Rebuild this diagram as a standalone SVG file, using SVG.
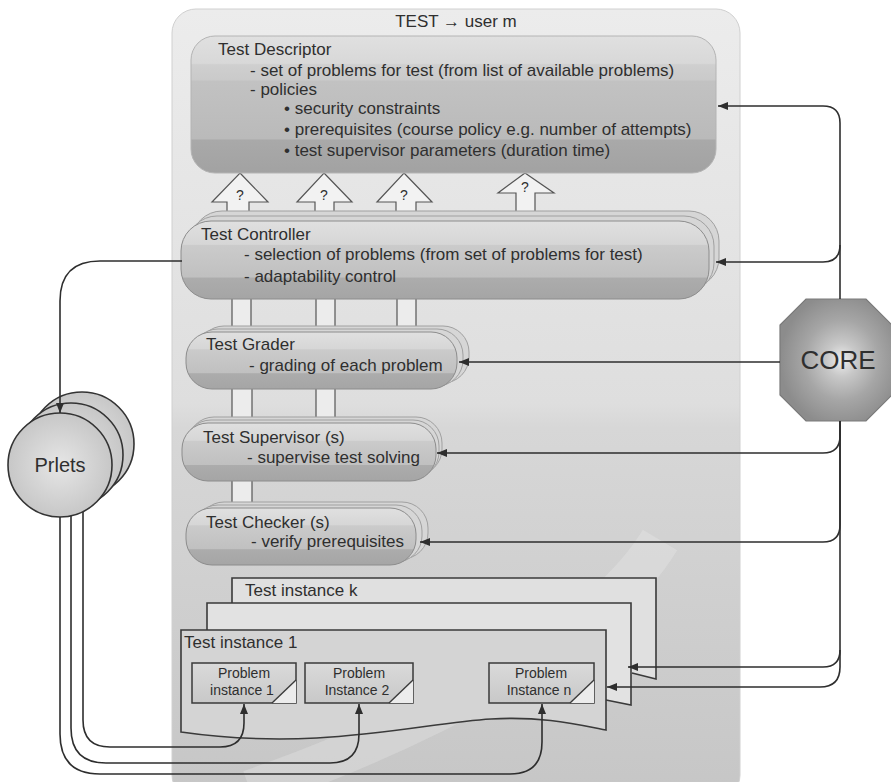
<svg xmlns="http://www.w3.org/2000/svg" width="891" height="782" viewBox="0 0 891 782">
<style>
text{font-family:"Liberation Sans",Arial,sans-serif;fill:#2f2f2f}
.t17{font-size:17px}
.t14{font-size:14px}
.pill{fill:url(#pillG);stroke:#8c8c8c;stroke-width:1}
.pillb{fill:#d6d6d6;stroke:#a0a0a0;stroke-width:1}
.conn{fill:none;stroke:#2e2e2e;stroke-width:1.6}
.blk{fill:#f2f2f2;stroke:#555;stroke-width:1.2}
.pipe{fill:#ececec}
.pline{stroke:#555;stroke-width:1.2}
.inst{stroke:#3a3a3a;stroke-width:1.6}
.prob{fill:url(#probG);stroke:#3a3a3a;stroke-width:1.5}
.circ{fill:url(#circG);stroke:#333;stroke-width:1.6}
</style>
<defs>
<linearGradient id="panelG" x1="0" y1="0" x2="0" y2="1">
<stop offset="0" stop-color="#ececec"/>
<stop offset="0.5" stop-color="#dedede"/>
<stop offset="0.53" stop-color="#d7d7d7"/>
<stop offset="1" stop-color="#c6c6c6"/>
</linearGradient>
<linearGradient id="descG" x1="0" y1="0" x2="0" y2="1">
<stop offset="0" stop-color="#e0e0e0"/>
<stop offset="0.2" stop-color="#d8d8d8"/>
<stop offset="0.21" stop-color="#cfcfcf"/>
<stop offset="0.32" stop-color="#cacaca"/>
<stop offset="0.33" stop-color="#c2c2c2"/>
<stop offset="0.75" stop-color="#bababa"/>
<stop offset="0.76" stop-color="#a9a9a9"/>
<stop offset="1" stop-color="#a2a2a2"/>
</linearGradient>
<linearGradient id="pillG" x1="0" y1="0" x2="0" y2="1">
<stop offset="0" stop-color="#e0e0e0"/>
<stop offset="0.3" stop-color="#d6d6d6"/>
<stop offset="0.31" stop-color="#cbcbcb"/>
<stop offset="0.72" stop-color="#c0c0c0"/>
<stop offset="0.73" stop-color="#acacac"/>
<stop offset="1" stop-color="#a5a5a5"/>
</linearGradient>
<linearGradient id="probG" x1="0" y1="0" x2="0" y2="1">
<stop offset="0" stop-color="#dadada"/>
<stop offset="1" stop-color="#c8c8c8"/>
</linearGradient>
<radialGradient id="circG" cx="0.5" cy="0.5" r="0.55">
<stop offset="0" stop-color="#e6e6e6"/>
<stop offset="1" stop-color="#c4c4c4"/>
</radialGradient>
<radialGradient id="coreG" cx="0.55" cy="0.5" r="0.55">
<stop offset="0" stop-color="#eeeeee"/>
<stop offset="0.25" stop-color="#c8c8c8"/>
<stop offset="0.6" stop-color="#a6a6a6"/>
<stop offset="1" stop-color="#8c8c8c"/>
</radialGradient>
<marker id="ah" viewBox="0 0 10 8" refX="10" refY="4" markerWidth="10" markerHeight="8" markerUnits="userSpaceOnUse" orient="auto">
<path d="M0,0 L10,4 L0,8 Z" fill="#2e2e2e"/>
</marker>
</defs>

<rect width="891" height="782" fill="#ffffff"/>

<g id="panel">
<rect x="172" y="9" width="568" height="790" rx="24" fill="url(#panelG)" stroke="#d0d0d0" stroke-width="1"/>
<path d="M250,790 C420,730 600,640 660,540" fill="none" stroke="#f2f2f2" stroke-width="40" opacity="0.25"/>
<text class="t17" x="456" y="27" text-anchor="middle">TEST → user m</text>
</g>

<g id="connectors">
<path class="blk" d="M240,173 L268,202 L249,202 L249,216 L227,216 L227,202 L212,202 Z"/>
<path class="blk" d="M324,173 L352,202 L334,202 L334,216 L315,216 L315,202 L297,202 Z"/>
<path class="blk" d="M404,173 L432,202 L416,202 L416,216 L396,216 L396,202 L377,202 Z"/>
<path class="blk" d="M525,173 L554,193 L535,193 L535,216 L516,216 L516,193 L498,193 Z"/>
<text class="t14" x="240" y="200" text-anchor="middle">?</text>
<text class="t14" x="324" y="200" text-anchor="middle">?</text>
<text class="t14" x="404" y="200" text-anchor="middle">?</text>
<text class="t14" x="525" y="192" text-anchor="middle">?</text>
<rect class="pipe" x="232" y="296" width="19" height="40"/>
<rect class="pipe" x="316" y="296" width="19" height="40"/>
<rect class="pipe" x="397" y="296" width="19" height="40"/>
<path class="pline" d="M232,296 V336 M251,296 V336 M316,296 V336 M335,296 V336 M397,296 V336 M416,296 V336"/>
<rect class="pipe" x="232" y="386" width="20" height="36"/>
<rect class="pipe" x="316" y="386" width="19" height="36"/>
<path class="pline" d="M232,386 V422 M252,386 V422 M316,386 V422 M335,386 V422"/>
<rect class="pipe" x="232" y="478" width="20" height="30"/>
<path class="pline" d="M232,478 V508 M252,478 V508"/>
</g>

<g id="test-descriptor">
<rect x="191" y="36" width="525" height="137" rx="24" fill="url(#descG)" stroke="#b4b4b4" stroke-width="1"/>
<text class="t17" x="218" y="55">Test Descriptor</text>
<text class="t17" x="250" y="76">- set of problems for test (from list of available problems)</text>
<text class="t17" x="250" y="95">- policies</text>
<text class="t17" x="284" y="114">• security constraints</text>
<text class="t17" x="284" y="135">• prerequisites (course policy e.g. number of attempts)</text>
<text class="t17" x="284" y="156">• test supervisor parameters (duration time)</text>
</g>

<g id="test-controller">
<rect class="pillb" x="192" y="211" width="527" height="77" rx="30"/>
<rect class="pillb" x="187" y="216" width="527" height="77" rx="30"/>
<rect class="pill" x="181" y="221" width="528" height="78" rx="30"/>
<text class="t17" x="201" y="240">Test Controller</text>
<text class="t17" x="244" y="260">- selection of problems (from set of problems for test)</text>
<text class="t17" x="244" y="282">- adaptability control</text>
</g>

<g id="test-grader">
<rect class="pillb" x="198" y="326" width="271" height="57" rx="26"/>
<rect class="pillb" x="192" y="329" width="271" height="57" rx="26"/>
<rect class="pill" x="186" y="332" width="271" height="57" rx="26"/>
<text class="t17" x="206" y="350">Test Grader</text>
<text class="t17" x="249" y="371">- grading of each problem</text>
</g>

<g id="test-supervisor">
<rect class="pillb" x="188" y="417" width="254" height="58" rx="26"/>
<rect class="pillb" x="185" y="420" width="254" height="58" rx="26"/>
<rect class="pill" x="182" y="423" width="254" height="58" rx="26"/>
<text class="t17" x="203" y="443">Test Supervisor (s)</text>
<text class="t17" x="247" y="463">- supervise test solving</text>
</g>

<g id="test-checker">
<rect class="pillb" x="198" y="502" width="230" height="57" rx="26"/>
<rect class="pillb" x="192" y="505" width="230" height="57" rx="26"/>
<rect class="pill" x="186" y="508" width="230" height="57" rx="26"/>
<text class="t17" x="206" y="528">Test Checker (s)</text>
<text class="t17" x="251" y="547">- verify prerequisites</text>
</g>

<g id="test-instance-k">
<path class="inst" d="M232,640 V578 H656 V679 L632,673" fill="#e0e0e0"/>
<text class="t17" x="245" y="596">Test instance k</text>
</g>

<g id="test-instance-2">
<path class="inst" d="M207,660 V603 H631 V705 L606,700" fill="#e2e2e2"/>
</g>

<g id="test-instance-1">
<path class="inst" d="M181,732 V630 H606 V730 C575,724 540,716 491,719 C420,723 320,752 181,732 Z" fill="#d4d4d4"/>
<text class="t17" x="184" y="648">Test instance 1</text>
</g>

<g id="problem-instance-1">
<rect class="prob" x="192" y="663" width="104" height="40"/>
<path d="M296,680 V703 H272 Z" fill="#ececec"/>
<path d="M296,680 L272,703" stroke="#3a3a3a" stroke-width="1.4"/>
<text class="t14" x="244" y="678" text-anchor="middle">Problem</text>
<text class="t14" x="242" y="695" text-anchor="middle">instance 1</text>
</g>

<g id="problem-instance-2">
<rect class="prob" x="305" y="663" width="108" height="40"/>
<path d="M413,680 V703 H389 Z" fill="#ececec"/>
<path d="M413,680 L389,703" stroke="#3a3a3a" stroke-width="1.4"/>
<text class="t14" x="359" y="678" text-anchor="middle">Problem</text>
<text class="t14" x="357" y="695" text-anchor="middle">Instance 2</text>
</g>

<g id="problem-instance-n">
<rect class="prob" x="489" y="663" width="105" height="40"/>
<path d="M594,680 V703 H570 Z" fill="#ececec"/>
<path d="M594,680 L570,703" stroke="#3a3a3a" stroke-width="1.4"/>
<text class="t14" x="541" y="678" text-anchor="middle">Problem</text>
<text class="t14" x="539" y="695" text-anchor="middle">Instance n</text>
</g>

<g id="prlets">
<circle class="circ" cx="82" cy="444" r="52"/>
<circle class="circ" cx="71" cy="455" r="52"/>
<circle class="circ" cx="60" cy="465" r="52"/>
<text x="60" y="472" text-anchor="middle" style="font-size:20px">Prlets</text>
</g>

<g id="core">
<polygon points="806,299 866,299 892,325 892,395 866,421 806,421 780,395 780,325" fill="url(#coreG)" stroke="#7a7a7a" stroke-width="1.2"/>
<text x="838" y="369" text-anchor="middle" style="font-size:26px">CORE</text>
</g>

<g id="connector-lines">
<path class="conn" marker-end="url(#ah)" d="M182,261 H100 Q60,261 60,301 V413"/>
<path class="conn" marker-end="url(#ah)" d="M840,299 V123 Q840,106 823,106 H718"/>
<path class="conn" marker-end="url(#ah)" d="M840,245 Q840,262 823,262 H716"/>
<path class="conn" marker-end="url(#ah)" d="M780,362 H459"/>
<path class="conn" marker-end="url(#ah)" d="M840,421 V436 Q840,453 823,453 H437"/>
<path class="conn" marker-end="url(#ah)" d="M840,421 V525 Q840,542 823,542 H420"/>
<path class="conn" marker-end="url(#ah)" d="M840,421 V650 Q840,667 823,667 H628"/>
<path class="conn" marker-end="url(#ah)" d="M840,650 V667 Q840,687 820,687 H607"/>
<path class="conn" marker-end="url(#ah)" d="M83,512 V720 Q83,747 110,747 H220 Q244,747 244,723 V704"/>
<path class="conn" marker-end="url(#ah)" d="M71,516 V728 Q71,763 106,763 H330 Q359,763 359,734 V704"/>
<path class="conn" marker-end="url(#ah)" d="M60,517 V734 Q60,774 100,774 H510 Q542,774 542,742 V704"/>
</g>
</svg>
